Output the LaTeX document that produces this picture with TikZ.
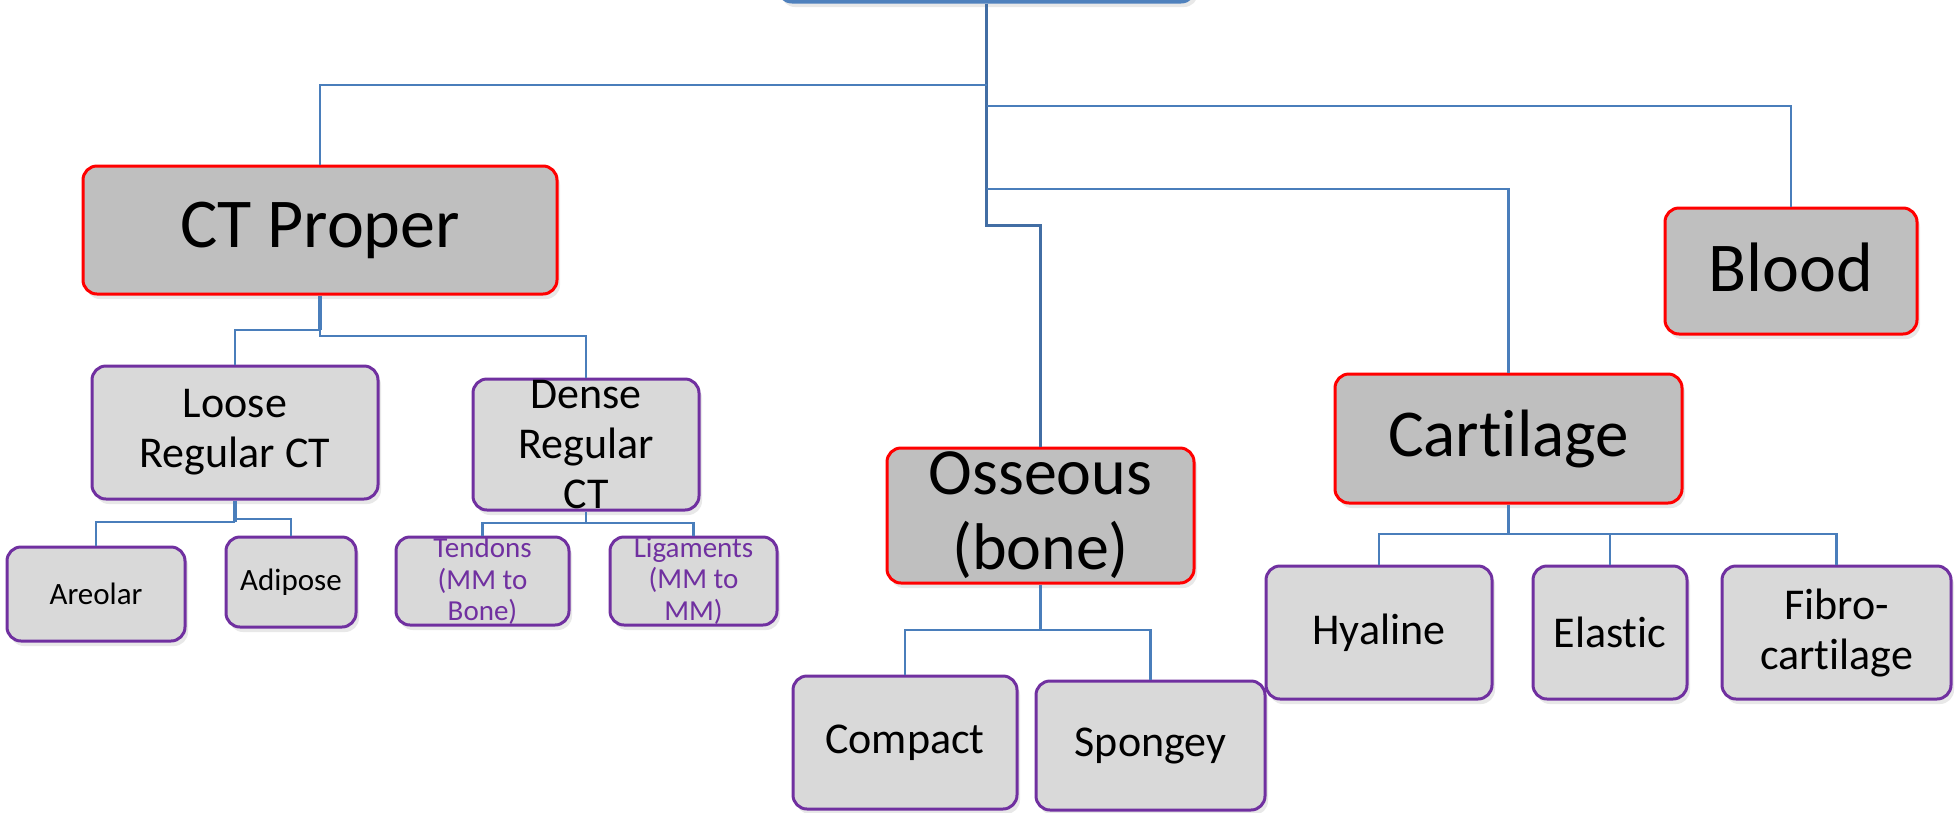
\documentclass[tikz,border=0pt]{standalone}
\usepackage{fontspec}
\setmainfont{Carlito}[Ligatures=NoCommon]
\usetikzlibrary{shadows}
\definecolor{conncol}{RGB}{74,126,187}
\definecolor{trunkcol}{RGB}{66,110,164}
\definecolor{topblue}{RGB}{79,129,189}
\definecolor{maingray}{RGB}{191,191,191}
\definecolor{subgray}{RGB}{217,217,217}
\definecolor{boxred}{RGB}{255,0,0}
\definecolor{boxpurple}{RGB}{112,48,160}
\tikzset{
  mainbox/.style={draw=boxred, fill=maingray, line width=3pt, rounded corners=14pt,
    inner sep=0pt, align=center, text=black,
    drop shadow={shadow xshift=3pt, shadow yshift=-5pt, opacity=0.18}},
  subbox/.style={draw=boxpurple, fill=subgray, line width=3pt, rounded corners=14pt,
    inner sep=0pt, align=center, text=black,
    drop shadow={shadow xshift=3pt, shadow yshift=-5pt, opacity=0.18}},
  conn/.style={draw=conncol, line width=2.5pt},
  trunk/.style={draw=trunkcol, line width=3pt},
}
\begin{document}
\begin{tikzpicture}[x=1pt, y=-1pt]
\useasboundingbox (0,0) rectangle (1959,812);
\clip (0,0) rectangle (1959,812);

% top (cut-off) box
\node[draw=topblue, fill=topblue, line width=3pt, rounded corners=14pt,
  minimum width=417pt, minimum height=80pt, inner sep=0pt,
  drop shadow={shadow xshift=3pt, shadow yshift=-5pt, opacity=0.18}] (top) at (986.5,-38) {};

% main category boxes
\node[mainbox, minimum width=474pt, minimum height=128pt, font=\fontsize{70}{80}\selectfont] (ctp) at (320,230)
  {CT Proper};
\node[mainbox, minimum width=252pt, minimum height=126pt, font=\fontsize{70}{80}\selectfont] (blood) at (1791,271)
  {\raisebox{7pt}{Blood}};
\node[mainbox, minimum width=347pt, minimum height=129pt, font=\fontsize{67}{76}\selectfont] (cart) at (1508.5,438.5)
  {Cartilage};
\node[mainbox, minimum width=307pt, minimum height=135pt, font=\fontsize{66}{75}\selectfont] (oss) at (1040.5,515.5)
  {Osseous\\(bone)};

% sub boxes
\node[subbox, minimum width=286pt, minimum height=133pt, font=\fontsize{44}{50}\selectfont] (loose) at (235,432.5)
  {Loose\\Regular CT};
\node[subbox, minimum width=226pt, minimum height=131pt, font=\fontsize{44}{50}\selectfont] (dense) at (586,444.5)
  {Dense\\Regular\\CT};
\node[subbox, minimum width=178pt, minimum height=94pt, font=\fontsize{31}{36}\selectfont] (areolar) at (96,594)
  {Areolar};
\node[subbox, minimum width=130pt, minimum height=90pt, font=\fontsize{31}{36}\selectfont] (adipose) at (291,582)
  {Adipose};
\node[subbox, minimum width=173pt, minimum height=88pt, text=boxpurple, font=\fontsize{29}{31.5}\selectfont] (tendons) at (482.5,581)
  {Tendons\\(MM to\\Bone)};
\node[subbox, minimum width=167pt, minimum height=88pt, text=boxpurple, font=\fontsize{29}{31.5}\selectfont] (lig) at (693.5,581)
  {Ligaments\\(MM to\\MM)};
\node[subbox, minimum width=224pt, minimum height=133pt, font=\fontsize{44}{50}\selectfont] (compact) at (905,742.5)
  {Compact};
\node[subbox, minimum width=229pt, minimum height=129pt, font=\fontsize{44}{50}\selectfont] (spongey) at (1150.5,745.5)
  {Spongey};
\node[subbox, minimum width=226pt, minimum height=133pt, font=\fontsize{44}{50}\selectfont] (hyaline) at (1379,632.5)
  {Hyaline};
\node[subbox, minimum width=154pt, minimum height=133pt, font=\fontsize{44}{50}\selectfont] (elastic) at (1610,632.5)
  {Elastic};
\node[subbox, minimum width=229pt, minimum height=133pt, font=\fontsize{44}{50}\selectfont] (fibro) at (1836.5,632.5)
  {Fibro-\\cartilage};

% junction coordinates
\coordinate (jct) at (top.south |- 0,85);
\coordinate (jbl) at (top.south |- 0,106);
\coordinate (jca) at (top.south |- 0,189);
\coordinate (jos) at (top.south |- 0,225);
\coordinate (jp1) at (ctp.south |- 0,330);
\coordinate (jp2) at (ctp.south |- 0,336);
\coordinate (jl1) at (loose.south |- 0,522);
\coordinate (jl2) at (loose.south |- 0,519);
\coordinate (jd) at (dense.south |- 0,523);
\coordinate (jo) at (oss.south |- 0,630);
\coordinate (jc) at (cart.south |- 0,534);

% connectors
\draw[trunk] (top.south) -- (jos) -| (oss.north);
\draw[conn] (jct) -| (ctp.north);
\draw[conn] (jbl) -| (blood.north);
\draw[conn] (jca) -| (cart.north);

\draw[conn, line width=3.5pt] (ctp.south) -- (jp1);
\draw[conn] (jp1) -| (loose.north);
\draw[conn] (jp1) -- (jp2) -| (dense.north);

\draw[conn, line width=3.5pt] (loose.south) -- (jl1);
\draw[conn] (jl1) -| (areolar.north);
\draw[conn] (jl2) -| (adipose.north);

\draw[conn] (dense.south) -- (jd);
\draw[conn] (jd) -| (tendons.north);
\draw[conn] (jd) -| (lig.north);

\draw[conn, line width=3.5pt] (oss.south) -- (jo);
\draw[conn] (jo) -| (compact.north);
\draw[conn] (jo) -| (spongey.north);

\draw[conn, line width=3.5pt] (cart.south) -- (jc);
\draw[conn] (jc) -| (hyaline.north);
\draw[conn] (jc) -| (elastic.north);
\draw[conn] (jc) -| (fibro.north);
\end{tikzpicture}
\end{document}
